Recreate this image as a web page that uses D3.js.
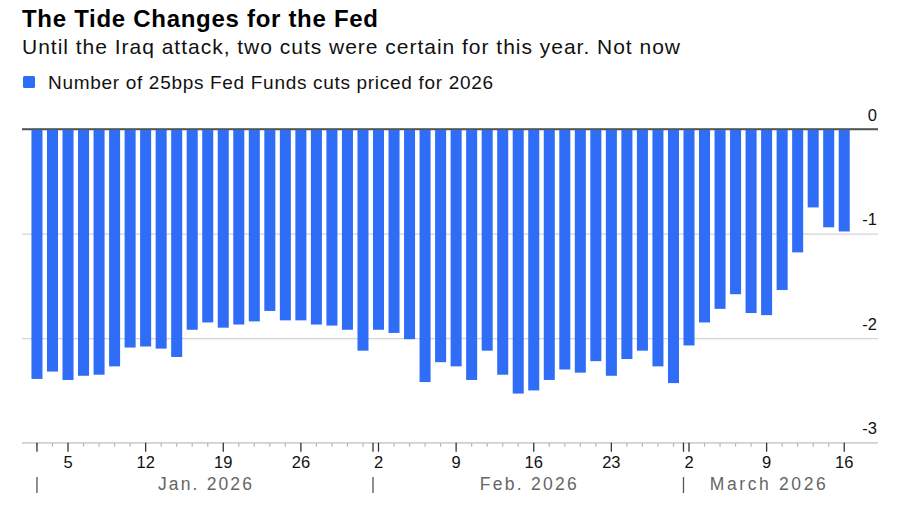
<!DOCTYPE html>
<html><head><meta charset="utf-8">
<script src="https://cdn.jsdelivr.net/npm/d3@7"></script>
<style>body{margin:0;background:#fff;font-family:"Liberation Sans",Arial,sans-serif}</style>
</head><body><svg id="c" width="900" height="510"></svg>
<script>
const dates = [
  "2026-01-01","2026-01-02","2026-01-05","2026-01-06","2026-01-07","2026-01-08","2026-01-09",
  "2026-01-12","2026-01-13","2026-01-14","2026-01-15","2026-01-16",
  "2026-01-19","2026-01-20","2026-01-21","2026-01-22","2026-01-23",
  "2026-01-26","2026-01-27","2026-01-28","2026-01-29","2026-01-30",
  "2026-02-02","2026-02-03","2026-02-04","2026-02-05","2026-02-06",
  "2026-02-09","2026-02-10","2026-02-11","2026-02-12","2026-02-13",
  "2026-02-16","2026-02-17","2026-02-18","2026-02-19","2026-02-20",
  "2026-02-23","2026-02-24","2026-02-25","2026-02-26","2026-02-27",
  "2026-03-02","2026-03-03","2026-03-04","2026-03-05","2026-03-06",
  "2026-03-09","2026-03-10","2026-03-11","2026-03-12","2026-03-13",
  "2026-03-16"
];
const cutsPriced = [
  -2.39,-2.32,-2.40,-2.36,-2.35,-2.27,-2.09,
  -2.08,-2.10,-2.18,-1.92,-1.85,
  -1.90,-1.87,-1.84,-1.74,-1.83,
  -1.83,-1.87,-1.88,-1.92,-2.12,
  -1.92,-1.95,-2.01,-2.42,-2.23,
  -2.27,-2.40,-2.12,-2.35,-2.53,
  -2.50,-2.40,-2.30,-2.33,-2.22,
  -2.36,-2.20,-2.12,-2.27,-2.43,
  -2.07,-1.85,-1.72,-1.58,-1.76,
  -1.78,-1.54,-1.18,-0.75,-0.94,
  -0.98
];
const yTicks = [0,-1,-2,-3];
const dayTickDates = ["2026-01-05","2026-01-12","2026-01-19","2026-01-26","2026-02-02","2026-02-09","2026-02-16","2026-02-23","2026-03-02","2026-03-09","2026-03-16"];
const monthStarts = ["2026-01-01","2026-02-02","2026-03-02"];
const monthLabels = ["Jan. 2026","Feb. 2026","March 2026"];

const title = "The Tide Changes for the Fed";
const subtitle = "Until the Iraq attack, two cuts were certain for this year. Not now";
const legendLabel = "Number of 25bps Fed Funds cuts priced for 2026";

const svg = d3.select("#c");
const plotL = 22, plotR = 878;
const barColor = "#2f6df6";

const x = d3.scaleBand().domain(dates).range([29.2, 852]).paddingInner(0.29).paddingOuter(0.145);
const y = d3.scaleLinear().domain([0,-3]).range([129, 442.7]);

// Headings
svg.append("text").attr("x",22).attr("y",27).attr("font-size",24).attr("font-weight","bold")
  .attr("fill","#000").attr("textLength",356).attr("lengthAdjust","spacing").text(title);
svg.append("text").attr("x",22).attr("y",53.5).attr("font-size",21).attr("fill","#111")
  .attr("textLength",658).attr("lengthAdjust","spacing").text(subtitle);
svg.append("rect").attr("x",23).attr("y",76).attr("width",12).attr("height",12).attr("rx",1.5).attr("fill",barColor);
svg.append("text").attr("x",48).attr("y",88.5).attr("font-size",19).attr("fill","#111")
  .attr("textLength",445).attr("lengthAdjust","spacing").text(legendLabel);

// Y grid + labels
const yAxis = d3.axisRight(y).tickValues(yTicks).tickSize(plotR-plotL).tickFormat(d => d === 0 ? "0" : "-" + Math.abs(d));
const gy = svg.append("g").attr("transform",`translate(${plotL},0)`).call(yAxis);
gy.select(".domain").remove();
gy.selectAll(".tick line").attr("stroke", d => d===0 ? "#555" : "#d4d4d4").attr("stroke-width", d => d===0?1.6:1.2);
gy.selectAll(".tick text").attr("x", plotR-plotL-1).attr("dy",-9).attr("text-anchor","end")
  .attr("font-size",16.5).attr("font-family","Liberation Sans, Arial, sans-serif").attr("fill","#111");

// Bars
svg.append("g").selectAll("rect").data(dates).join("rect")
  .attr("x", d => x(d)).attr("width", x.bandwidth())
  .attr("y", y(0)+0.8)
  .attr("height", (d,i) => y(cutsPriced[i]) - y(0) - 0.8)
  .attr("fill", barColor);

// zero line over bars
svg.append("line").attr("x1",plotL).attr("x2",plotR).attr("y1",y(0)).attr("y2",y(0)).attr("stroke","#555").attr("stroke-width",1.6);

// X axis: minor ticks
const baseY = y(-3);
const gMinor = svg.append("g").attr("transform",`translate(0,${baseY})`)
  .call(d3.axisBottom(x).tickValues(dates.filter(d => !dayTickDates.includes(d))).tickSize(4).tickFormat(""));
gMinor.select(".domain").remove();
gMinor.selectAll(".tick line").attr("stroke","#b5b5b5").attr("stroke-width",1.2);

svg.append("line").attr("x1",plotL).attr("x2",plotR).attr("y1",baseY).attr("y2",baseY).attr("stroke","#d0d0d0").attr("stroke-width",1.3);

const gMajor = svg.append("g").attr("transform",`translate(0,${baseY})`)
  .call(d3.axisBottom(x).tickValues(dayTickDates).tickSize(9).tickFormat(d => String(+d.slice(8))));
gMajor.select(".domain").remove();
gMajor.selectAll(".tick line").attr("stroke","#333").attr("stroke-width",1.3);
gMajor.selectAll(".tick text").attr("y",25.5).attr("dy",0).attr("font-size",16.5)
  .attr("font-family","Liberation Sans, Arial, sans-serif").attr("fill","#111");

// Month boundaries
const bx = monthStarts.map((d,i) => i===0 ? x(d) + x.bandwidth()/2 : x(d));
const ends = bx.slice(1).concat([852]);
const monthWidths = [94, 97, 116];
const gm = svg.append("g");
gm.selectAll("line.b").data(bx).join("line").attr("class","b")
  .attr("x1",d=>d).attr("x2",d=>d).attr("y1",baseY).attr("y2",baseY+9).attr("stroke","#333").attr("stroke-width",1.3);
gm.selectAll("line.s").data(bx).join("line").attr("class","s")
  .attr("x1",d=>d).attr("x2",d=>d).attr("y1",477).attr("y2",493).attr("stroke","#555").attr("stroke-width",1.3);
gm.selectAll("text").data(monthLabels).join("text")
  .attr("x",(d,i)=> (bx[i]+ends[i])/2 - monthWidths[i]/2).attr("y",490)
  .attr("font-size",17.5).attr("fill","#666")
  .attr("textLength",(d,i)=>monthWidths[i]).attr("lengthAdjust","spacing").text(d=>d);
</script>
</body></html>
